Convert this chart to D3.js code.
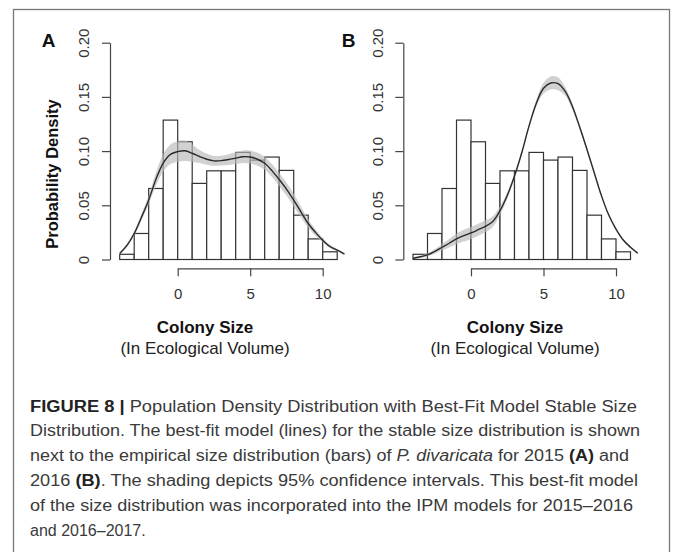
<!DOCTYPE html>
<meta charset="utf-8">
<style>
    body {
        margin: 0;
        background: #fff;
    }

    svg text {
        font-family: "Liberation Sans", Arial, sans-serif;
    }

    .bar {
        fill: #fff;
        stroke: #333;
        stroke-width: 1.2px;
    }

    .band {
        fill: #b8b8b8;
        opacity: 0.65;
    }

    .fit {
        fill: none;
        stroke: #2a2a2a;
        stroke-width: 1.4px;
    }

    .axis path,
    .axis line {
        stroke: #444;
        stroke-width: 1.2px;
    }

    .axis text {
        fill: #333;
        font-size: 15px;
    }

    .caption {
        fill: #3a3a3a;
        font-size: 16px;
    }
</style>

<body>
    <script src="https://d3js.org/d3.v7.min.js"></script>
    <script>
        // histogram bins (colony size, 1 unit wide) and empirical density, same in both panels
        var binStart = [-4, -3, -2, -1, 0, 1, 2, 3, 4, 5, 6, 7, 8, 9, 10];
        var histDensity = [0.0048, 0.024, 0.0655, 0.1286, 0.1086, 0.0702, 0.0818, 0.0818,
            0.0988, 0.0917, 0.0945, 0.0822, 0.0409, 0.019, 0.0071];

        // best-fit stable size distribution, read at these sizes
        var fitX = [-4, -3.5, -3, -2.5, -2, -1.5, -1, -0.5, 0, 0.5, 1, 1.5, 2, 2.5, 3, 3.5,
            4, 4.5, 5, 5.5, 6, 6.5, 7, 7.5, 8, 8.5, 9, 9.5, 10, 10.5, 11, 11.5];

        var fitA = [0.0055, 0.013, 0.024, 0.039, 0.055, 0.074, 0.089, 0.097, 0.0995, 0.1003,
            0.098, 0.095, 0.0925, 0.091, 0.0912, 0.0922, 0.0935, 0.0948, 0.0945, 0.0925,
            0.0888, 0.082, 0.0738, 0.065, 0.0548, 0.044, 0.0332, 0.025, 0.0178, 0.012,
            0.0086, 0.005];
        // half width of the 95% band
        var ciA = [0.001, 0.0015, 0.002, 0.003, 0.004, 0.006, 0.008, 0.009, 0.0095, 0.0095,
            0.008, 0.006, 0.005, 0.0045, 0.0045, 0.005, 0.0055, 0.0058, 0.006, 0.006,
            0.006, 0.006, 0.006, 0.006, 0.0058, 0.005, 0.004, 0.003, 0.002, 0.0015,
            0.001, 0.0008];

        var fitB = [0.0012, 0.0025, 0.0043, 0.0075, 0.0113, 0.015, 0.019, 0.022, 0.0245,
            0.0275, 0.0306, 0.035, 0.045, 0.059, 0.077, 0.0985, 0.123, 0.144, 0.158,
            0.1628, 0.1622, 0.155, 0.141, 0.122, 0.1015, 0.08, 0.0587, 0.041, 0.0281,
            0.018, 0.0113, 0.0058];
        var ciB = [0.001, 0.0012, 0.0015, 0.002, 0.003, 0.004, 0.005, 0.0055, 0.0055,
            0.0055, 0.0055, 0.005, 0.004, 0.003, 0.002, 0.002, 0.002, 0.003, 0.005,
            0.006, 0.006, 0.004, 0.003, 0.002, 0.002, 0.0015, 0.0015, 0.0012, 0.001,
            0.001, 0.001, 0.001];

        var yTicks = [0, 0.05, 0.1, 0.15, 0.2];
        var yTickLabels = ["0", "0.05", "0.10", "0.15", "0.20"];
        var xTicks = [0, 5, 10];

        var captionLines = [
            [["b", "FIGURE 8 | "], ["", "Population Density Distribution with Best-Fit Model Stable Size"]],
            [["", "Distribution. The best-fit model (lines) for the stable size distribution is shown"]],
            [["", "next to the empirical size distribution (bars) of "], ["i", "P. divaricata"], ["", " for 2015 "], ["b", "(A)"], ["", " and"]],
            [["", "2016 "], ["b", "(B)"], ["", ". The shading depicts 95% confidence intervals. This best-fit model"]],
            [["", "of the size distribution was incorporated into the IPM models for 2015\u20132016"]],
            [["", "and 2016\u20132017."]]
        ];
        var captionWidths = [607, 610, 599, 608, 603, null];

        var width = 673,
            height = 552;

        var svg = d3.select("body").append("svg")
            .attr("width", width)
            .attr("height", height);

        svg.append("rect")
            .attr("x", 13.5)
            .attr("y", 9.5)
            .attr("width", 656)
            .attr("height", 600)
            .style("fill", "none")
            .style("stroke", "#777")
            .style("stroke-width", 1.3);

        var y = d3.scaleLinear()
            .domain([0, 0.2])
            .range([259.5, 42.7]);

        var panels = [
            { name: "A", zero: 177.7, axisX: 110, labelX: 48.5, xlabX: 205, fit: fitA, ci: ciA, ylab: true },
            { name: "B", zero: 471, axisX: 403.3, labelX: 348.5, xlabX: 515, fit: fitB, ci: ciB, ylab: false }
        ];

        panels.forEach(function(p) {
            var x = d3.scaleLinear()
                .domain([0, 10])
                .range([p.zero, p.zero + 145]);

            var g = svg.append("g");

            g.selectAll(".bar")
                .data(binStart)
                .enter().append("rect")
                .attr("class", "bar")
                .attr("x", function(d) {
                    return x(d);
                })
                .attr("y", function(d, i) {
                    return y(histDensity[i]);
                })
                .attr("width", function(d) {
                    return x(d + 1) - x(d);
                })
                .attr("height", function(d, i) {
                    return y(0) - y(histDensity[i]);
                });

            var pts = fitX.map(function(d, i) {
                return { x: d, y: p.fit[i], ci: p.ci[i] };
            });

            var area = d3.area()
                .curve(d3.curveCatmullRom)
                .x(function(d) {
                    return x(d.x);
                })
                .y0(function(d) {
                    return y(Math.max(0, d.y - d.ci));
                })
                .y1(function(d) {
                    return y(d.y + d.ci);
                });

            var line = d3.line()
                .curve(d3.curveCatmullRom)
                .x(function(d) {
                    return x(d.x);
                })
                .y(function(d) {
                    return y(d.y);
                });

            g.append("path")
                .datum(pts)
                .attr("class", "band")
                .attr("d", area);

            g.append("path")
                .datum(pts)
                .attr("class", "fit")
                .attr("d", line);

            // y axis
            var yAxis = g.append("g")
                .attr("class", "axis")
                .attr("transform", "translate(" + p.axisX + ",0)")
                .call(d3.axisLeft(y).tickValues(yTicks).tickSize(8).tickSizeOuter(0)
                    .tickFormat(function(d, i) {
                        return yTickLabels[i];
                    }));
            yAxis.selectAll("text")
                .attr("x", 0)
                .attr("dy", 0)
                .attr("transform", "translate(-26,0) rotate(-90)")
                .attr("dy", "0.35em")
                .style("text-anchor", "middle");

            // x axis
            var xAxis = g.append("g")
                .attr("class", "axis")
                .attr("transform", "translate(0,268.3)")
                .call(d3.axisBottom(x).tickValues(xTicks).tickSize(8).tickSizeOuter(0));
            xAxis.selectAll("text")
                .attr("y", 20);

            g.append("text")
                .attr("x", p.labelX)
                .attr("y", 47)
                .style("text-anchor", "middle")
                .style("font-weight", "bold")
                .style("font-size", "19px")
                .style("fill", "#111")
                .text(p.name);

            g.append("text")
                .attr("x", p.xlabX)
                .attr("y", 333)
                .style("text-anchor", "middle")
                .style("font-weight", "bold")
                .style("font-size", "17px")
                .style("fill", "#111")
                .text("Colony Size");

            g.append("text")
                .attr("x", p.xlabX)
                .attr("y", 354)
                .style("text-anchor", "middle")
                .style("font-size", "17px")
                .style("fill", "#222")
                .text("(In Ecological Volume)");

            if (p.ylab) {
                g.append("text")
                    .attr("transform", "translate(57.5,174) rotate(-90)")
                    .style("text-anchor", "middle")
                    .style("font-weight", "bold")
                    .style("font-size", "16.5px")
                    .style("fill", "#111")
                    .text("Probability Density");
            }
        });

        // caption
        captionLines.forEach(function(parts, i) {
            var t = svg.append("text")
                .attr("class", "caption")
                .attr("x", 30)
                .attr("y", 411.5 + i * 24.8);
            if (captionWidths[i]) {
                t.attr("textLength", captionWidths[i])
                    .attr("lengthAdjust", "spacingAndGlyphs");
            }
            parts.forEach(function(s) {
                var span = t.append("tspan").text(s[1]);
                if (s[0] === "b") span.style("font-weight", "bold").style("fill", "#222");
                if (s[0] === "i") span.style("font-style", "italic");
            });
        });
    </script>
</body>
